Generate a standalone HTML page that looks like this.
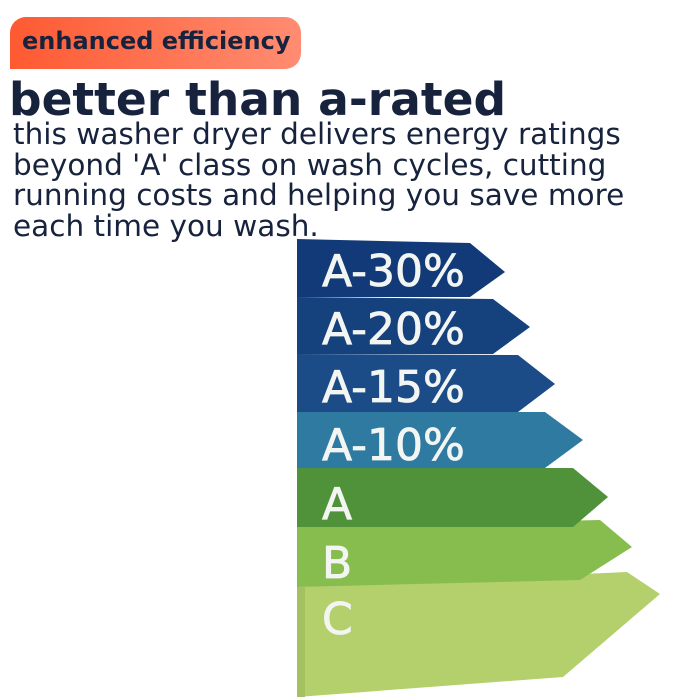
<!DOCTYPE html>
<html><head><style>
body{margin:0;width:700px;height:700px;background:#fff;overflow:hidden;position:relative;font-family:"DejaVu Sans","Liberation Sans",sans-serif;color:#17233d}
.badge{position:absolute;left:10px;top:17px;width:291px;height:52px;background:linear-gradient(90deg,#fe5a32,#ff8c72);border-radius:16px 16px 16px 0}
.badge span{position:absolute;left:12px;top:10px;font-size:24px;font-weight:bold;white-space:nowrap}
h1{position:absolute;left:9px;top:74px;margin:0;font-size:45.5px;font-weight:bold;white-space:nowrap;line-height:52px}
p{position:absolute;left:13px;top:119px;margin:0;font-size:29.5px;line-height:30.7px;white-space:nowrap}
svg{position:absolute;left:0;top:0}
</style></head><body>
<svg width="700" height="700">
<g font-family="DejaVu Sans, Liberation Sans, sans-serif" font-size="44" fill="#f2f5f2" stroke="#f2f5f2" stroke-width="0.8">
<polygon points="297,587 627,572 660,594 563,677 297,697" fill="#b4d06c" stroke="none"/>
<polygon points="297,587 305,587 305,697 297,697" fill="#a3c160" stroke="none"/>
<polygon points="297,527 600,520 632,547 580,580 297,587" fill="#87bd4f" stroke="none"/>
<polygon points="297,468 573,468 608,497 573,527 297,527" fill="#4f923a" stroke="none"/>
<polygon points="297,412 545,412 583,440 545,468 297,468" fill="#2e7aa0" stroke="none"/>
<polygon points="297,354 518,355 555,384 518,412 297,412" fill="#1b4c88" stroke="none"/>
<polygon points="297,297 493,299 530,327 493,354 297,354" fill="#15417d" stroke="none"/>
<polygon points="297,239 470,243 505,272 470,297 297,297" fill="#123a78" stroke="none"/>
<text x="322" y="286">A-30%</text>
<text x="322" y="344">A-20%</text>
<text x="322" y="402">A-15%</text>
<text x="322" y="460">A-10%</text>
<text x="322" y="519">A</text>
<text x="322" y="578">B</text>
<text x="322" y="634">C</text>
</g>
</svg>
<div class="badge"><span>enhanced efficiency</span></div>
<h1>better than a-rated</h1>
<p>this washer dryer delivers energy ratings<br>beyond 'A' class on wash cycles, cutting<br>running costs and helping you save more<br>each time you wash.</p>
</body></html>
